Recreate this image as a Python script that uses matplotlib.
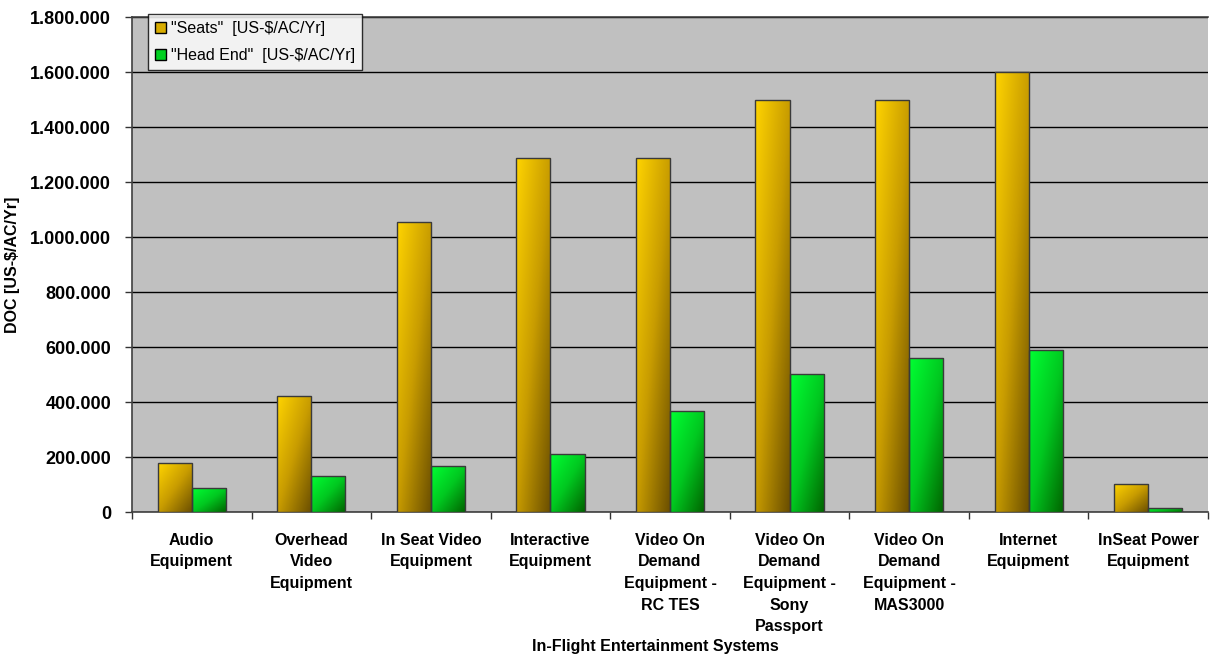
import numpy as np
import matplotlib
matplotlib.use("Agg")
import matplotlib.pyplot as plt
from matplotlib.colors import LinearSegmentedColormap
from matplotlib.patches import Patch
from matplotlib.ticker import FuncFormatter

plt.rcParams['font.family'] = ['Liberation Sans', 'DejaVu Sans']

categories = ["Audio\nEquipment", "Overhead\nVideo\nEquipment", "In Seat Video\nEquipment",
              "Interactive\nEquipment", "Video On\nDemand\nEquipment -\nRC TES",
              "Video On\nDemand\nEquipment -\nSony\nPassport", "Video On\nDemand\nEquipment -\nMAS3000",
              "Internet\nEquipment", "InSeat Power\nEquipment"]
seats = [178000, 421000, 1056000, 1288000, 1288000, 1500000, 1500000, 1600000, 102000]
head_end = [87000, 131000, 167000, 210000, 366000, 501000, 559000, 588000, 15000]
series_names = ['"Seats"  [US-$/AC/Yr]', '"Head End"  [US-$/AC/Yr]']

cmap_seats = LinearSegmentedColormap.from_list("s", ["#FFD400", "#C89C00", "#6A4E00"])
cmap_head = LinearSegmentedColormap.from_list("h", ["#00FF33", "#00C820", "#006400"])

fig = plt.figure(figsize=(12.11, 6.55), dpi=100)
ax = fig.add_axes([0.109, 0.2183, 0.8885, 0.7557])
ax.set_facecolor("#C0C0C0")

x = np.arange(len(categories))
w = 0.285

# gradient texture: corner to corner
g = np.linspace(0, 1, 60)
gx, gy = np.meshgrid(g, g)
grad = (gx + gy) / 2  # row 0 = top when origin='upper'


def gradient_bars(xpos, vals, cmap):
    bars = ax.bar(xpos, vals, width=w, color="none", edgecolor="#3a3a3a",
                  linewidth=1.0, zorder=4)
    for b in bars:
        x0, y0 = b.get_x(), b.get_y()
        im = ax.imshow(grad, cmap=cmap, vmin=0, vmax=1, origin="upper",
                       extent=(x0, x0 + b.get_width(), y0, y0 + b.get_height()),
                       aspect="auto", zorder=3, interpolation="bilinear")
        im.set_clip_path(b)
    return bars


gradient_bars(x - w / 2, seats, cmap_seats)
gradient_bars(x + w / 2, head_end, cmap_head)

ax.set_xlim(-0.5, len(categories) - 0.5)
ax.set_ylim(0, 1800000)
ax.set_yticks(np.arange(0, 1800001, 200000))
ax.yaxis.set_major_formatter(FuncFormatter(lambda v, p: f"{int(v):,}".replace(",", ".")))
ax.yaxis.grid(True, color="black", linewidth=1.0, zorder=1)
ax.set_axisbelow(True)

ax.set_xticks(np.arange(-0.5, len(categories), 1.0))
ax.set_xticklabels([])
ax.set_xticks(x, minor=True)
ax.set_xticklabels(categories, minor=True, fontsize=11.5, fontweight="bold", linespacing=1.55, va="top")
ax.tick_params(axis="x", which="minor", length=0, pad=15)
ax.tick_params(axis="x", which="major", length=5, width=1, color="#333333")
ax.tick_params(axis="y", length=5, width=1, labelsize=13, pad=10, color="#333333")
for lab in ax.get_yticklabels():
    lab.set_fontweight("bold")

for s in ["left", "bottom", "top"]:
    ax.spines[s].set_color("#404040")
    ax.spines[s].set_linewidth(1.2)
ax.spines["right"].set_visible(False)

ax.set_ylabel("DOC [US-$/AC/Yr]", fontsize=11.5, fontweight="bold")
ax.yaxis.set_label_coords(-0.104, 0.5)
fig.text(0.541, 0.001, "In-Flight Entertainment Systems", ha="center", va="bottom",
         fontsize=11.5, fontweight="bold")

handles = [Patch(facecolor="#D8AC00", edgecolor="black"), Patch(facecolor="#00D020", edgecolor="black")]
leg = fig.legend(handles, series_names, loc="upper left", bbox_to_anchor=(148 / 1211, 1 - 14 / 655),
                 fontsize=11.5, frameon=True, fancybox=False, shadow=False, handlelength=0.7,
                 handleheight=0.7, handletextpad=0.3, borderpad=0.45, labelspacing=0.75,
                 borderaxespad=0)
leg.get_frame().set_edgecolor("black")
leg.get_frame().set_linewidth(1.0)

fig.savefig("out.png", dpi=100)
